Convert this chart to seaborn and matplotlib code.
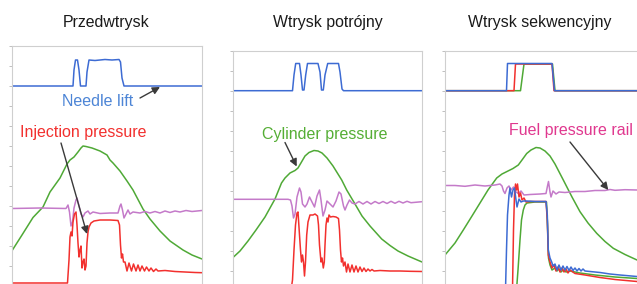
import matplotlib
matplotlib.use("Agg")
import matplotlib.pyplot as plt
import seaborn as sns

# Values, per panel: x = time axis, y = signal level
# (both in the panel's own plot units, y measured from the bottom of the plot)

# --- Panel 1: Przedwtrysk ---
p1_lift_x = [0, 61, 62, 63.5, 65.5, 67, 68.5, 74, 75, 77, 83, 93, 100, 107, 108.5, 110, 112, 190]
p1_lift_y = [198, 198, 214, 224, 224, 214, 198, 198, 212, 224, 223.5, 224.5, 224, 224.5, 222, 206, 198, 198]

p1_cyl_x = [0, 10, 21, 31, 38, 48, 55, 58, 62, 66, 69, 71, 74, 80, 88, 95, 98, 101, 108, 115,
            121, 131, 138, 148, 158, 171, 180, 190]
p1_cyl_y = [33.3, 49, 66.5, 77, 92, 106, 120, 124, 127, 132, 136, 138, 137.5, 136, 133, 129, 124, 121, 113, 103,
            94, 75, 65, 53, 43, 34, 29, 25]

p1_rail_x = [0, 28, 54, 56, 57.5, 59, 60.5, 62, 64, 65, 67, 69, 71, 73, 76, 78, 81, 88, 98, 106,
             108, 109, 110.5, 112, 114, 116, 118, 121, 128, 133, 138, 143, 148, 153, 158, 163, 168, 174, 180, 190]
p1_rail_y = [75.5, 76, 75.5, 79, 72, 58, 62, 76, 84, 86, 78, 70, 67, 71, 73, 70, 72, 70.5, 71, 71,
             78, 80, 74, 66, 70, 74, 70, 72, 71, 72.5, 71, 72.5, 71, 73, 71.5, 73, 72, 73.5, 72.5, 73.5]

p1_inj_x = [0, 55.5, 57, 58, 59, 60, 61, 62.5, 64, 65, 66, 67, 68, 69, 70, 71, 72, 73, 74, 75,
            76, 77, 79, 82, 88, 98, 106, 107.5, 108.5, 109.5, 110.5, 111.5, 113, 115, 117, 119.5, 121.5, 124, 126, 128,
            130, 132.5, 134.5, 137, 139, 141.5, 144, 146, 153, 163, 173, 183, 190]
p1_inj_y = [1, 1, 24, 47, 52, 48, 62, 70, 72, 59, 41, 27, 34, 38, 16, 22, 25, 14, 18, 41,
            52, 57, 61, 63, 64, 64, 63.5, 59, 39, 26, 30, 22, 22, 13, 21, 13, 20, 13, 19, 13,
            18, 13, 17, 13, 16, 12.5, 15, 13, 13.5, 12.5, 12, 11.5, 11.3]

# --- Panel 2: Wtrysk potrójny ---
p2_lift_x = [0, 59.5, 61, 62.7, 66.5, 68, 69.5, 71, 72.7, 74.5, 85, 87, 88.5, 90.3, 92, 94.7, 105.5, 107, 109, 110.5, 189]
p2_lift_y = [193.3, 193.3, 209, 220.5, 220.5, 209, 194, 194, 209, 220.5, 220.5, 212, 194, 194, 209, 220.5, 220.5, 212, 195, 193.3, 193.3]

p2_cyl_x = [0, 7, 15, 23, 32, 37, 42, 48.5, 52, 57, 62, 65, 68.5, 72, 76, 81, 85, 89, 94, 100,
            108.7, 113.7, 122, 129, 137, 148.7, 157, 165, 175, 189]
p2_cyl_y = [26.5, 33, 43, 54, 67, 76, 85, 101, 106, 111, 113.5, 116, 122, 128, 131.5, 133.5, 133, 131, 126, 118,
            104, 94, 80, 68, 58, 45, 38.5, 33, 28, 22]

p2_rail_x = [0, 55, 57.5, 59, 60.5, 62, 64, 66.5, 68, 69.5, 72, 74, 76.5, 79, 81.5, 84, 86.5, 88, 90, 92,
             94, 97, 100, 103, 106, 108, 110.5, 112, 114, 116.5, 119, 122, 126, 130, 134, 138, 142, 146, 150, 154,
             158, 162, 166, 170, 174, 178, 189]
p2_rail_y = [84.7, 84.7, 84, 78, 66, 70, 87, 96, 92, 80, 77, 80, 87, 82, 77, 88, 94, 84, 68, 74,
             83, 80, 77, 83, 92, 90, 78, 74, 79, 84, 81, 80, 82.5, 80, 82.5, 80, 82.5, 80.5, 82.5, 80.5,
             82.7, 80.7, 82.7, 81, 82.7, 81.3, 82.3]

p2_inj_x = [0, 58, 59.5, 61, 62.5, 64, 65, 66.5, 67.5, 68.5, 69.5, 70.5, 71.5, 72.5, 73.7, 75, 77, 80, 82, 84.5,
            85.5, 86.5, 88, 89, 90.3, 91.3, 92, 93, 94, 95, 96, 97.5, 100, 103, 105.5, 106.5, 107.5, 108.5, 109.5, 110.5,
            112, 113.5, 115, 117, 119, 121, 123, 125, 127, 129, 131, 133, 135, 137, 139, 141, 147, 157, 167, 177, 189]
p2_inj_y = [-6, -6, 4, 34, 59, 71, 72, 49, 34, 22, 29, 22, 8, 22, 49, 62, 69, 69, 70, 68,
            59, 39, 22, 26, 16, 22, 39, 59, 66, 62, 69, 67, 67.5, 67, 65.5, 54, 34, 22, 26, 18,
            22, 12, 20, 12, 19, 12, 18, 12, 17, 12.5, 16, 12.5, 15, 13, 14.5, 13, 13.5, 13, 13, 12.7, 12.5]

# --- Panel 3: Wtrysk sekwencyjny (three injector variants) ---
p3_lift_blue_x = [0, 61.5, 62.5, 107, 109.5, 192]
p3_lift_blue_y = [193.3, 193.3, 220.5, 220.5, 193.3, 193.3]
p3_lift_red_x = [0, 69, 70.5, 107, 109, 192]
p3_lift_red_y = [193.3, 193.3, 220, 220, 193.3, 193.3]
p3_lift_green_x = [0, 75.5, 79, 107.5, 110, 192]
p3_lift_green_y = [193.3, 193.3, 220, 220, 193.3, 193.3]

p3_cyl_x = [0, 10, 18.3, 27, 35, 43, 51.7, 57, 62, 68, 73.3, 77, 81.7, 86, 91, 95, 100, 105, 110, 118.3,
            127, 135, 143, 151.7, 160, 168.3, 180, 192]
p3_cyl_y = [29, 41, 54, 68, 81, 94, 106, 110, 112.5, 115.5, 119, 124, 130.5, 134, 136.5, 136, 133, 128, 120, 104,
            87, 72.3, 61, 50.7, 42.5, 35.7, 29.5, 24]

p3_rail_x = [0, 10, 20, 30, 40, 50, 55, 57, 58.5, 60, 62, 64, 66, 68.5, 71, 73.3, 76, 79, 85, 95,
             101, 102.5, 103.5, 105, 106, 108, 111, 114, 120, 130, 140, 150, 160, 165, 170, 180, 192]
p3_rail_y = [98.5, 98.5, 97.7, 99, 98, 99, 100, 98, 93, 90.5, 96, 98, 94, 97, 92, 90.5, 93, 89, 89.5, 90,
             90.5, 98, 102.5, 92, 87, 93, 90, 92, 91.5, 92.5, 92.5, 93.5, 93.5, 94.5, 93.7, 94.3, 94]

p3_inj_blue_x = [0, 60.5, 61.5, 62.5, 64, 65, 66.5, 68, 69.5, 71, 72, 74, 76, 78.3, 81.7, 90, 101, 102.3, 103.3, 105,
                 106.7, 108, 110, 112, 114, 116, 118, 120, 122, 124, 126, 128, 130, 132, 134, 136, 138, 140, 145, 155,
                 165, 175, 192]
p3_inj_blue_y = [-6, -6, 34, 69, 89, 96, 87, 94, 96, 84, 77, 85, 82, 83, 83, 82.5, 82.5, 69, 34, 26,
                 22, 18, 20, 14, 19, 14, 18, 14, 17.5, 13.5, 17, 13.5, 16, 13, 15.5, 13, 15, 13, 12.5, 11.5,
                 10, 9, 7.5]

p3_inj_red_x = [0, 67.5, 68.5, 69.5, 70.5, 71.5, 72.5, 74, 75.5, 77, 79, 81, 85, 101, 102.3, 103.3, 105, 107, 109, 111,
                113, 115, 117, 119, 121, 123, 125, 130, 140, 155, 170, 192]
p3_inj_red_y = [-6, -6, 54, 89, 100, 94, 100, 87, 91, 84, 86, 82, 82.5, 82.5, 64, 29, 22, 16, 19, 13,
                17, 12, 16, 12, 15, 11, 14, 10.5, 9, 6.5, 4.5, 2.5]

p3_inj_green_x = [0, 71.5, 73, 75, 76.5, 78.3, 80, 82, 90, 101.5, 102.5, 103.5, 105, 107, 110, 112, 114, 116, 118, 121,
                  125, 135, 150, 170, 192]
p3_inj_green_y = [-6, -6, 14, 44, 64, 74, 79, 81, 82, 82, 59, 26, 19, 14, 16, 13, 15, 12, 14, 12,
                  13, 11, 9, 7, 5.5]

titles = ["Przedwtrysk", "Wtrysk potrójny", "Wtrysk sekwencyjny"]

BLUE = "#3d6bd3"
RED = "#f2302e"
GREEN = "#4fa936"
PURPLE = "#c47ac9"
FRAME = "#cfcfcf"

sns.set_style("white")
plt.rcParams["font.family"] = ["Liberation Sans", "DejaVu Sans"]

W, H = 637, 284
fig = plt.figure(figsize=(W / 100, H / 100), dpi=100)

# panel boxes in pixels: left, width, plot height
boxes = [(12, 190, 238), (233, 189, 233), (445, 195, 233)]
axes = []
for left, width, height in boxes:
    ax = fig.add_axes([left / W, 0, width / W, height / H])
    ax.set_xlim(0, width)
    ax.set_ylim(0, height)
    ax.set_xticks([])
    ax.set_yticks([height - 20 * k for k in range(int(height // 20) + 1)])
    ax.set_yticklabels([])
    ax.tick_params(axis="y", direction="out", length=2.5, width=0.6, color="#b5b5b5", left=True)
    for side in ["left", "top", "right"]:
        ax.spines[side].set_color(FRAME)
        ax.spines[side].set_linewidth(0.8)
    ax.spines["bottom"].set_visible(False)
    axes.append(ax)


def line(ax, x, y, color, lw=1.1):
    sns.lineplot(x=x, y=y, ax=ax, color=color, lw=lw, estimator=None, sort=False, legend=False)


def arrow(ax, start, end):
    ax.annotate("", xy=end, xytext=start,
                arrowprops=dict(arrowstyle="-|>", color="#3a3a3a", lw=1.0, mutation_scale=11,
                                shrinkA=0, shrinkB=0))


# panel 1
ax = axes[0]
line(ax, p1_lift_x, p1_lift_y, BLUE)
line(ax, p1_cyl_x, p1_cyl_y, GREEN)
line(ax, p1_rail_x, p1_rail_y, PURPLE)
line(ax, p1_inj_x, p1_inj_y, RED)
ax.text(85.5, 182, "Needle lift", color="#4d85d6", fontsize=11.5, ha="center", va="center")
arrow(ax, (128, 186), (148, 197))
ax.text(71.5, 151, "Injection pressure", color=RED, fontsize=11.5, ha="center", va="center")
arrow(ax, (49, 141), (75, 50))

# panel 2
ax = axes[1]
line(ax, p2_lift_x, p2_lift_y, BLUE)
line(ax, p2_cyl_x, p2_cyl_y, GREEN)
line(ax, p2_rail_x, p2_rail_y, PURPLE)
line(ax, p2_inj_x, p2_inj_y, RED)
ax.text(92, 149, "Cylinder pressure", color="#55ae35", fontsize=11.5, ha="center", va="center")
arrow(ax, (52, 141.5), (63.7, 117.5))

# panel 3
ax = axes[2]
line(ax, p3_lift_green_x, p3_lift_green_y, GREEN)
line(ax, p3_lift_red_x, p3_lift_red_y, RED)
line(ax, p3_lift_blue_x, p3_lift_blue_y, BLUE)
line(ax, p3_cyl_x, p3_cyl_y, GREEN)
line(ax, p3_rail_x, p3_rail_y, PURPLE)
line(ax, p3_inj_green_x, p3_inj_green_y, GREEN)
line(ax, p3_inj_red_x, p3_inj_red_y, RED)
line(ax, p3_inj_blue_x, p3_inj_blue_y, BLUE)
ax.text(125.8, 154, "Fuel pressure rail", color="#e0388f", fontsize=11.5, ha="center", va="center")
arrow(ax, (125, 142), (163.3, 94))

for cx, title in zip([106, 328, 540], titles):
    fig.text(cx / W, 1 - 22 / H, title, fontsize=11.4, ha="center", va="center", color="#1a1a1a")

fig.savefig("out.png", dpi=100)
